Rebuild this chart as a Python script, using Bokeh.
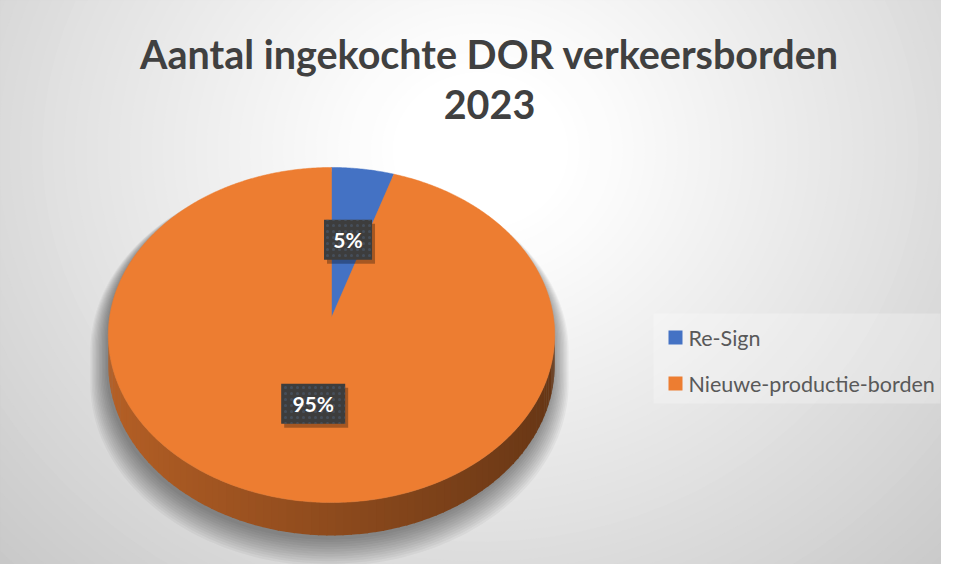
import numpy as np
from bokeh.plotting import figure
from bokeh.models import Range1d, ColumnDataSource
from bokeh.core.properties import value
from bokeh.embed import file_html
from bokeh.resources import INLINE

# ---------------- data ----------------
categories = ["Re-Sign", "Nieuwe-productie-borden"]
values = [5, 95]
colors = ["#4472C4", "#ED7D31"]
title_lines = ["Aantal ingekochte DOR verkeersborden", "2023"]

# ---------------- layout constants (pixels from top-left) ----------------
W, H = 941, 564
CX, CY = 331, 317          # pie centre
RX, RY = 222, 165.7        # pie radii
K = 0.1045                 # perspective factor
DEPTH = 29.5               # pie thickness
FONT = value("Lato")


def Y(yp):
    """pixel y (top-down) -> data y (bottom-up)"""
    return H - np.asarray(yp, dtype=float)


def proj(theta_deg, r=1.0, dz=0.0):
    th = np.radians(theta_deg)
    u = r * np.sin(th)
    v = -r * np.cos(th)
    s = 1.0 / (1.0 - K * v)
    return CX + RX * u * s, Y(CY + RY * v * s + dz * s)


p = figure(width=W, height=H, x_range=Range1d(0, W), y_range=Range1d(0, H),
           output_backend="svg", toolbar_location=None, min_border=0,
           x_axis_type=None, y_axis_type=None)
p.grid.visible = False
p.outline_line_color = None
p.background_fill_color = "#c9c9c9"
p.border_fill_color = "#c9c9c9"

# ---------------- background radial gradient ----------------
GCX, GCY, GRX, GRY = 480, 150, 560, 500
ts = np.linspace(1.35, 0.0, 70)[:-1]
phi = np.linspace(0, 2 * np.pi, 90)
bxs, bys, bcols = [], [], []
for t in ts:
    bxs.append(list(GCX + GRX * t * np.cos(phi)))
    bys.append(list(Y(GCY + GRY * t * np.sin(phi))))
    f = np.clip((t - 0.15) / 1.05, 0, 1) ** 1.1
    g = int(round(255 - 55 * f))
    bcols.append("#%02x%02x%02x" % (g, g, g))
p.patches(bxs, bys, fill_color=bcols, line_color=None)

# ---------------- angles from values ----------------
total = float(sum(values))
ends = np.cumsum(values) / total * 360.0
starts = np.concatenate([[0.0], ends[:-1]])
vis0 = 90 + np.degrees(np.arcsin(K))
vis1 = 270 - np.degrees(np.arcsin(K))

# ---------------- shadow ----------------
back = np.linspace(vis1, vis0 + 360, 120)
front = np.linspace(vis0, vis1, 120)
bx1, by1 = proj(back)
bx2, by2 = proj(front, dz=DEPTH)
sil_x = np.concatenate([bx1, bx2])
sil_y = np.concatenate([by1, by2])
shx, shy = [], []
scy = Y(CY + DEPTH / 2)
for j in range(12):
    sc = 1.0 + 0.0065 * j
    off = 4 + 1.1 * j
    shx.append(list(CX - 2 + (sil_x - CX) * sc))
    shy.append(list(scy + (sil_y - scy) * sc - off))
p.patches(shx, shy, fill_color="black", fill_alpha=0.04, line_color=None)

# ---------------- side of pie ----------------
base_rgb = {c: tuple(int(c[i:i + 2], 16) for i in (1, 3, 5)) for c in colors}
segs = np.linspace(vis0, vis1, 90)
sxs, sys_, scols = [], [], []
for a0, a1 in zip(segs[:-1], segs[1:]):
    am = 0.5 * (a0 + a1)
    idx = min(int(np.searchsorted(ends, am % 360, side="right")), len(values) - 1)
    r, g, b = base_rgb[colors[idx]]
    u = np.sin(np.radians(am))
    fct = 0.6 - 0.17 * u
    col = "#%02x%02x%02x" % (int(r * fct), int(g * fct), int(b * fct))
    xa, ya = proj(np.array([a0, a1 + 0.3]))
    xb, yb = proj(np.array([a1 + 0.3, a0]), dz=DEPTH)
    sxs.append(list(np.concatenate([xa, xb])))
    sys_.append(list(np.concatenate([ya, yb])))
    scols.append(col)
p.patches(sxs, sys_, fill_color=scols, line_color=None)

# ---------------- top face ----------------
wx, wy = [], []
cx0, cy0 = proj(np.array([0.0]), r=0.0)
for a0, a1 in zip(starts, ends):
    arc = np.linspace(a0, a1, max(4, int((a1 - a0) * 2)))
    ax, ay = proj(arc)
    wx.append(list(np.concatenate([cx0, ax])))
    wy.append(list(np.concatenate([cy0, ay])))
p.patches(wx, wy, fill_color=colors, line_color=colors, line_width=0.5)

# ---------------- data labels ----------------
mids = 0.5 * (starts + ends)
lx, ly = proj(mids, r=0.5)
labels = ["%d%%" % round(v / total * 100) for v in values]
bw = [16 * len(s) + 16 for s in labels]
lab = ColumnDataSource(dict(x=lx, y=ly, w=bw, t=labels, sx=lx + 3, sy=ly - 4))
p.rect("sx", "sy", "w", 40, source=lab, fill_color="black", fill_alpha=0.3, line_color=None)
p.rect("x", "y", "w", 40, source=lab, fill_color="#3d3d3d", line_color=None,
       hatch_pattern="dot", hatch_color="#4d6078", hatch_alpha=0.5, hatch_scale=6)
p.text("x", "y", "t", source=lab, text_align="center", text_baseline="middle",
       text_font=FONT, text_font_style="bold", text_font_size="21px", text_color="white")

# ---------------- legend ----------------
leg_y = Y(np.array([337, 383]))
p.rect(x=(653 + 940) / 2, y=Y((313 + 403) / 2), width=287, height=90,
       fill_color="white", fill_alpha=0.25, line_color=None)
leg = ColumnDataSource(dict(x=[675] * len(categories), y=leg_y, c=colors, t=categories,
                            tx=[688] * len(categories)))
p.rect("x", "y", 14, 14, source=leg, fill_color="c", line_color=None)
p.text("tx", "y", "t", source=leg, text_align="left", text_baseline="middle",
       text_font=FONT, text_font_size="21.5px", text_color="#595959")

# ---------------- title ----------------
p.text(x=[489, 489], y=Y(np.array([53, 104])), text=title_lines, text_align="center",
       text_baseline="middle", text_font=FONT, text_font_style="bold",
       text_font_size="39.5px", text_color="#404040")

open("out.html", "w").write(file_html(p, INLINE))
